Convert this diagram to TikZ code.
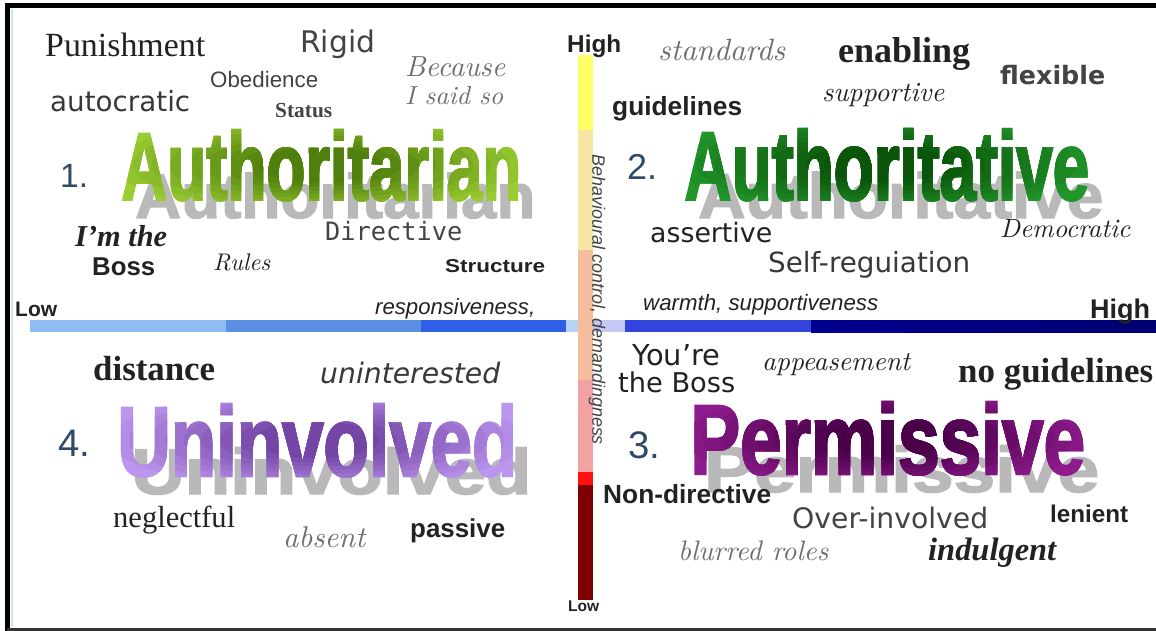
\documentclass[tikz,border=0pt]{standalone}
\usepackage{fontspec}
\usepackage{graphicx}
\newfontfamily\sansLib{Liberation Sans}
\newfontfamily\serifLib{Liberation Serif}
\newfontfamily\verdana{DejaVu Sans}
\newfontfamily\mono{DejaVu Sans Mono}
\newfontfamily\impact{Liberation Sans}[FakeBold=2]

\definecolor{encre}{HTML}{222222}
\definecolor{crayon}{HTML}{6E6E6E}
\definecolor{chiffre}{HTML}{2E4A66}
\definecolor{ombre}{HTML}{B9B9B9}
\definecolor{menthe}{HTML}{CDEBD5}
% mots des quadrants (bord, coeur)
\definecolor{vertclair}{HTML}{9ACD32}
\definecolor{vertclairC}{HTML}{4E7E0C}
\definecolor{vertfonce}{HTML}{22962A}
\definecolor{vertfonceC}{HTML}{0A540A}
\definecolor{prune}{HTML}{8E1C8E}
\definecolor{pruneC}{HTML}{480048}
\definecolor{lavande}{HTML}{BC96EE}
\definecolor{lavandeC}{HTML}{7344A4}
% barre horizontale
\definecolor{bleuA}{HTML}{8DBDF2}
\definecolor{bleuB}{HTML}{5A8FE4}
\definecolor{bleuC}{HTML}{2E5FE6}
\definecolor{bleuD}{HTML}{B8D4F4}
\definecolor{bleuE}{HTML}{C4C8F4}
\definecolor{bleuF}{HTML}{3344DD}
\definecolor{marine}{HTML}{00008F}
% barre verticale
\definecolor{jaune}{HTML}{FFFF66}
\definecolor{creme}{HTML}{F5E6A6}
\definecolor{peche}{HTML}{F4BE9C}
\definecolor{rose}{HTML}{F2A2A2}
\definecolor{rouge}{HTML}{FF1111}
\definecolor{bordeaux}{HTML}{7F0000}

\newcommand{\Ajuste}[2]{\resizebox{#1pt}{!}{#2}}
% #1 nom, #2 x, #3 ligne de base, #4 largeur, #5 hauteur, #6 couleur du bord, #7 couleur du coeur, #8 mot
\newcommand{\GrandMot}[8]{
  \pgfmathsetmacro\hombre{#5*0.65}
  \node[grand, text=ombre] (#1-ombre) at (#2+14,#3+18) {\resizebox{#4pt}{\hombre pt}{\impact\bfseries #8}};
  \node[grand, text=#6] (#1) at (#2,#3) {\resizebox{#4pt}{#5pt}{\impact\bfseries #8}};
  \foreach \k in {1,...,9}{
    \pgfmathsetmacro\rx{#4*(0.56-0.045*\k)}
    \pgfmathsetmacro\ry{#5*(0.75-0.055*\k)}
    \pgfmathtruncatemacro\mel{11*\k}
    \begin{scope}
      \clip (#2+#4/2,#3-#5/2) ellipse [x radius=\rx pt, y radius=\ry pt];
      \node[grand, text=#7!\mel!#6] at (#2,#3) {\resizebox{#4pt}{#5pt}{\impact\bfseries #8}};
    \end{scope}
  }
}

\tikzset{
  mot/.style={inner sep=0pt, anchor=base west, text=encre},
  main/.style={mot, text=crayon, font=\itshape},
  grand/.style={inner sep=0pt, anchor=base west},
  numero/.style={mot, text=chiffre, font=\sansLib},
}

\begin{document}
\begin{tikzpicture}[x=1pt,y=-1pt]
\useasboundingbox (0,0) rectangle (1156,631);
\fill[white] (0,0) rectangle (1156,631);

%Cadre
\draw[menthe, line width=2] (12,9) -- (12,627);
\draw[line width=5] (7,631) -- (7,5.5) -- (1156,5.5);
\draw[black!80, line width=3] (7,629.5) -- (1156,629.5);

%Barre horizontale : chaleur
\fill[bleuA] (30,320) rectangle (226,332);
\fill[bleuB] (226,320) rectangle (421,332);
\fill[bleuC] (421,320) rectangle (566,332);
\fill[bleuD] (566,320) rectangle (578,332);
\fill[bleuE] (593,320) rectangle (625,332);
\fill[bleuF] (625,320) rectangle (811,332);
\shade[left color=marine, right color=marine!80!black] (811,320) rectangle (1156,332);

%Barre verticale : controle
\fill[jaune] (578,55) rectangle (593,130);
\fill[creme] (578,130) rectangle (593,250);
\fill[peche] (578,250) rectangle (593,380);
\fill[rose] (578,380) rectangle (593,472);
\fill[rouge] (578,472) rectangle (593,485);
\fill[bordeaux] (578,485) rectangle (593,600);

%Etiquettes des axes
\node[mot, font=\sansLib\bfseries] (hautV) at (567,53) {\Ajuste{54}{High}};
\node[mot, font=\sansLib\bfseries] (basV) at (568,611) {\Ajuste{31}{Low}};
\node[inner sep=0pt, rotate=-90, text=encre!85, font=\sansLib\itshape] (controle) at (597,300) {\Ajuste{290}{Behavioural control, demandingness}};
\node[mot, font=\sansLib\bfseries] (basH) at (15,316) {\Ajuste{42}{Low}};
\node[mot, font=\sansLib\bfseries] (hautH) at (1090,318) {\Ajuste{60}{High}};
\node[mot, font=\sansLib\itshape] (reponse) at (375,314) {\Ajuste{160}{responsiveness,}};
\node[mot, font=\sansLib\itshape] (chaleur) at (643,310) {\Ajuste{235}{warmth, supportiveness}};

%1. Authoritarian
\node[mot, font=\serifLib] (punition) at (45,57) {\Ajuste{160}{Punishment}};
\node[mot, font=\verdana, text=encre!85] (rigide) at (300,53) {\Ajuste{75}{Rigid}};
\node[mot, font=\sansLib, text=encre!85] (obeissance) at (210,88) {\Ajuste{108}{Obedience}};
\node[mot, font=\serifLib\bfseries, text=encre!85] (statut) at (275,118) {\Ajuste{57}{Status}};
\node[mot, font=\verdana, text=encre!90] (autocrate) at (50,112) {\Ajuste{140}{autocratic}};
\node[main] (parceque) at (405,77) {\Ajuste{100}{Because}};
\node[main] (jeledis) at (405,105) {\Ajuste{98}{I said so}};
\node[numero] (un) at (60,188) {\Ajuste{28}{1.}};
\GrandMot{autoritaire}{121}{200}{400}{70}{vertclair}{vertclairC}{Authoritarian}
\node[mot, font=\serifLib\bfseries\itshape] (chef) at (75,247) {\Ajuste{92}{I’m the}};
\node[mot, font=\sansLib\bfseries] (patron) at (92,275) {\Ajuste{63}{Boss}};
\node[main, text=encre] (regles) at (213,270) {\Ajuste{57}{Rules}};
\node[mot, font=\mono, text=encre!85] (directif) at (325,240) {\Ajuste{137}{Directive}};
\node[mot, font=\sansLib\bfseries] (structure) at (445,272) {\resizebox{100pt}{13pt}{Structure}};

%2. Authoritative
\node[main] (normes) at (658,61) {\Ajuste{127}{standards}};
\node[mot, font=\serifLib\bfseries] (habilite) at (838,63) {\Ajuste{132}{enabling}};
\node[mot, font=\verdana\bfseries, text=encre!85] (souple) at (1000,85) {\Ajuste{105}{flexible}};
\node[main, text=encre] (soutien) at (822,102) {\Ajuste{122}{supportive}};
\node[mot, font=\sansLib\bfseries] (consignes) at (612,116) {\Ajuste{130}{guidelines}};
\node[numero] (deux) at (627,180) {\Ajuste{30}{2.}};
\GrandMot{autoritatif}{684}{200}{405}{71}{vertfonce}{vertfonceC}{Authoritative}
\node[mot, font=\verdana] (affirme) at (650,242) {\Ajuste{122}{assertive}};
\node[main, text=encre] (democrate) at (1000,237) {\Ajuste{130}{Democratic}};
\node[mot, font=\verdana, text=encre!90] (autoregul) at (768,272) {\Ajuste{202}{Self-reguiation}};

%3. Permissive
\node[mot, font=\verdana] (toi) at (632,365) {\Ajuste{88}{You’re}};
\node[mot, font=\verdana] (toipatron) at (618,392) {\Ajuste{117}{the Boss}};
\node[main, text=encre] (apaise) at (762,370) {\Ajuste{148}{appeasement}};
\node[mot, font=\serifLib\bfseries] (sansconsigne) at (958,382) {\Ajuste{195}{no guidelines}};
\node[numero] (trois) at (628,458) {\Ajuste{32}{3.}};
\GrandMot{permissif}{690}{474}{395}{72}{prune}{pruneC}{Permissive}
\node[mot, font=\sansLib\bfseries] (nondirectif) at (603,503) {\Ajuste{168}{Non-directive}};
\node[mot, font=\verdana, text=encre!85] (surinvesti) at (792,528) {\Ajuste{196}{Over-involved}};
\node[mot, font=\sansLib\bfseries] (clement) at (1050,522) {\Ajuste{78}{lenient}};
\node[main] (flou) at (678,560) {\Ajuste{150}{blurred roles}};
\node[mot, font=\serifLib\bfseries\itshape] (indulgent) at (928,560) {\Ajuste{128}{indulgent}};

%4. Uninvolved
\node[mot, font=\serifLib\bfseries] (distance) at (93,380) {\Ajuste{122}{distance}};
\node[mot, font=\verdana\itshape, text=encre!90] (desinteresse) at (320,383) {\Ajuste{180}{uninterested}};
\node[numero] (quatre) at (58,456) {\Ajuste{32}{4.}};
\GrandMot{desengage}{117}{476}{400}{72}{lavande}{lavandeC}{Uninvolved}
\node[mot, font=\serifLib] (neglige) at (113,527) {\Ajuste{122}{neglectful}};
\node[main] (absent) at (283,547) {\Ajuste{82}{absent}};
\node[mot, font=\sansLib\bfseries] (passif) at (410,537) {\Ajuste{95}{passive}};

\end{tikzpicture}
\end{document}
